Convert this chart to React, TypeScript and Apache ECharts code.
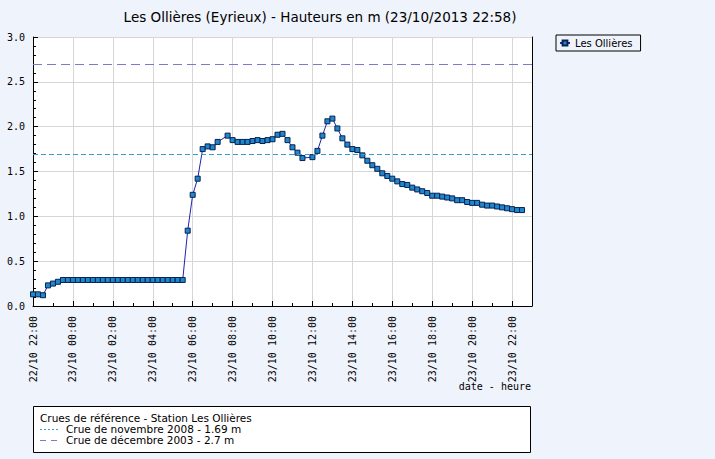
import React, { useEffect, useRef } from "react";
import * as echarts from "echarts";

const TITLE = "Les Ollières (Eyrieux) - Hauteurs en m (23/10/2013 22:58)";
const SERIES_NAME = "Les Ollières";
const X_NAME = "date - heure";
const REF_TITLE = "Crues de référence - Station Les Ollières";
const REF_NAMES = ["Crue de novembre 2008 - 1.69 m", "Crue de décembre 2003 - 2.7 m"];
const REF_VALUES = [1.69, 2.7];

// timestamps "DD HH:MM" (October 2013)
const times = [
  "22 22:00", "22 22:15", "22 22:30", "22 22:45", "22 23:00", "22 23:15", "22 23:30", "22 23:45",
  "23 00:00", "23 00:15", "23 00:30", "23 00:45", "23 01:00", "23 01:15", "23 01:30", "23 01:45",
  "23 02:00", "23 02:15", "23 02:30", "23 02:45", "23 03:00", "23 03:15", "23 03:30", "23 03:45",
  "23 04:00", "23 04:15", "23 04:30", "23 04:45", "23 05:00", "23 05:15", "23 05:30", "23 05:45",
  "23 06:00", "23 06:15", "23 06:30", "23 06:45", "23 07:00", "23 07:15", "23 07:45",
  "23 08:00", "23 08:15", "23 08:30", "23 08:45", "23 09:00", "23 09:15", "23 09:30", "23 09:45",
  "23 10:00", "23 10:15", "23 10:30", "23 10:45", "23 11:00", "23 11:15", "23 11:30",
  "23 12:00", "23 12:15", "23 12:30", "23 12:45", "23 13:00", "23 13:15", "23 13:30", "23 13:45",
  "23 14:00", "23 14:15", "23 14:30", "23 14:45", "23 15:00", "23 15:15", "23 15:30", "23 15:45",
  "23 16:00", "23 16:15", "23 16:30", "23 16:45", "23 17:00", "23 17:15", "23 17:30", "23 17:45",
  "23 18:00", "23 18:15", "23 18:30", "23 18:45", "23 19:00", "23 19:15", "23 19:30", "23 19:45",
  "23 20:00", "23 20:15", "23 20:30", "23 20:45", "23 21:00", "23 21:15", "23 21:30", "23 21:45",
  "23 22:00", "23 22:15", "23 22:30",
];

const heights = [
  0.13, 0.13, 0.12, 0.23, 0.25, 0.27, 0.29, 0.29,
  0.29, 0.29, 0.29, 0.29, 0.29, 0.29, 0.29, 0.29,
  0.29, 0.29, 0.29, 0.29, 0.29, 0.29, 0.29, 0.29,
  0.29, 0.29, 0.29, 0.29, 0.29, 0.29, 0.29, 0.84,
  1.24, 1.42, 1.75, 1.78, 1.77, 1.83, 1.90,
  1.85, 1.83, 1.83, 1.83, 1.84, 1.85, 1.84, 1.85,
  1.86, 1.91, 1.92, 1.85, 1.77, 1.71, 1.65,
  1.66, 1.73, 1.90, 2.06, 2.09, 1.98, 1.87, 1.80,
  1.75, 1.74, 1.68, 1.62, 1.57, 1.53, 1.48, 1.45,
  1.42, 1.39, 1.36, 1.35, 1.32, 1.30, 1.28, 1.26,
  1.23, 1.23, 1.22, 1.21, 1.20, 1.18, 1.18, 1.16,
  1.15, 1.15, 1.13, 1.12, 1.12, 1.11, 1.10, 1.09,
  1.08, 1.07, 1.07,
];

const START_DAY = 22;
const START_HOUR = 22;

function toHours(s: string): number {
  const [d, hm] = s.split(" ");
  const [h, m] = hm.split(":").map(Number);
  return (Number(d) - START_DAY) * 24 + h + m / 60 - START_HOUR;
}

function fmtTick(v: number): string {
  const total = START_HOUR + v;
  const day = START_DAY + Math.floor(total / 24);
  const hour = Math.round(total % 24);
  const pad = (n: number) => (n < 10 ? "0" + n : "" + n);
  return `${pad(day)}/10 ${pad(hour)}:00`;
}

export default function App() {
  const ref = useRef<HTMLDivElement>(null);
  useEffect(() => {
    if (!ref.current) return;
    const chart = echarts.init(ref.current, undefined, { renderer: "svg" });
    const mono = "DejaVu Sans Mono";
    const sans = "DejaVu Sans";
    const data = times.map((t, i) => [toHours(t), heights[i]]);
    const legendText = (text: string, x: number, y: number) => ({
      type: "text",
      x,
      y,
      style: {
        text,
        fontFamily: sans,
        fontSize: 10.5,
        fill: "#000",
        textVerticalAlign: "middle",
      },
    });
    chart.setOption({
      animation: false,
      backgroundColor: "#eff3fb",
      grid: {
        left: 33,
        top: 37,
        right: 183,
        bottom: 153,
        show: true,
        backgroundColor: "#ffffff",
        borderWidth: 0,
      },
      legend: {
        left: 556,
        top: 35,
        orient: "vertical",
        data: [SERIES_NAME],
        borderColor: "#000",
        borderWidth: 1,
        borderRadius: 0,
        padding: [3, 8, 3, 3],
        itemWidth: 10,
        itemHeight: 6,
        itemGap: 0,
        textStyle: { fontFamily: sans, fontSize: 10, color: "#000" },
      },
      xAxis: {
        type: "value",
        min: 0,
        max: 25,
        interval: 2,
        axisLine: { show: true, onZero: false, lineStyle: { color: "#000", width: 1 } },
        axisTick: { show: true, inside: true, length: 5, lineStyle: { color: "#000" } },
        minorTick: { show: true, splitNumber: 2, length: 3, lineStyle: { color: "#000" } },
        splitLine: { show: true, lineStyle: { color: "#d6d6d6", width: 1 } },
        axisLabel: {
          rotate: 90,
          margin: 10,
          fontFamily: mono,
          fontSize: 10,
          color: "#000",
          showMaxLabel: false,
          formatter: (v: number) => fmtTick(v),
        },
      },
      yAxis: [
        {
          type: "value",
          min: 0,
          max: 3,
          interval: 0.5,
          axisLine: { show: true, lineStyle: { color: "#000", width: 1 } },
          axisTick: { show: true, inside: true, length: 5, lineStyle: { color: "#000" } },
          minorTick: { show: true, splitNumber: 5, length: 3, lineStyle: { color: "#000" } },
          splitLine: { show: true, lineStyle: { color: "#d6d6d6", width: 1 } },
          axisLabel: {
            margin: 8,
            fontFamily: mono,
            fontSize: 10,
            color: "#000",
            formatter: (v: number) => v.toFixed(1),
          },
        },
        {
          type: "value",
          min: 0,
          max: 3,
          interval: 0.5,
          position: "right",
          axisLine: { show: true, lineStyle: { color: "#000", width: 1 } },
          axisTick: { show: false },
          axisLabel: { show: false },
          splitLine: { show: false },
        },
      ],
      series: [
        {
          name: SERIES_NAME,
          type: "line",
          data,
          symbol: "rect",
          symbolSize: 5,
          showAllSymbol: true,
          lineStyle: { color: "#2222aa", width: 1 },
          itemStyle: { color: "#1e88cc", borderColor: "#0a2050", borderWidth: 1 },
          markLine: {
            silent: true,
            symbol: "none",
            label: { show: false },
            data: [
              { yAxis: REF_VALUES[0], lineStyle: { color: "#3a9bd0", type: [5, 3], width: 1 } },
              { yAxis: REF_VALUES[1], lineStyle: { color: "#7a7acc", type: [9, 5], width: 1 } },
            ],
          },
        },
      ],
      graphic: [
        {
          type: "text",
          x: 320,
          y: 17,
          style: {
            text: TITLE,
            fontFamily: sans,
            fontSize: 13.5,
            fill: "#000",
            textAlign: "center",
            textVerticalAlign: "middle",
          },
        },
        {
          type: "text",
          x: 531,
          y: 381,
          style: { text: X_NAME, fontFamily: mono, fontSize: 10, fill: "#000", textAlign: "right" },
        },
        {
          type: "rect",
          shape: { x: 33.5, y: 406.5, width: 497, height: 46 },
          style: { fill: "#ffffff", stroke: "#000", lineWidth: 1 },
        },
        legendText(REF_TITLE, 40, 418),
        {
          type: "line",
          shape: { x1: 40, y1: 429.5, x2: 60, y2: 429.5 },
          style: { stroke: "#3a9bd0", lineWidth: 1, lineDash: [2, 2] },
        },
        legendText(REF_NAMES[0], 66, 429),
        {
          type: "line",
          shape: { x1: 40, y1: 440.5, x2: 62, y2: 440.5 },
          style: { stroke: "#7a7acc", lineWidth: 1, lineDash: [6, 5] },
        },
        legendText(REF_NAMES[1], 66, 440),
      ],
    });
    return () => chart.dispose();
  }, []);
  return <div ref={ref} style={{ width: 715, height: 459, position: "absolute", left: 0, top: 0 }} />;
}
